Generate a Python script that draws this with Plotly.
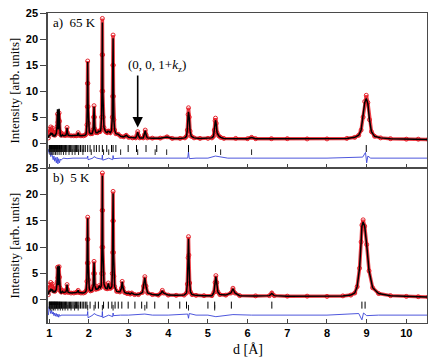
import plotly.graph_objects as go

# ---- panel a) 65 K ----
d_65 = [0.98, 1.00, 1.02, 1.04, 1.06, 1.08, 1.10, 1.12, 1.14, 1.16, 1.18, 1.20, 1.21, 1.22, 1.23, 1.24, 1.25, 1.26,
        1.27, 1.28, 1.30, 1.33, 1.36, 1.40, 1.42, 1.44, 1.45, 1.46, 1.48, 1.55, 1.62, 1.68, 1.71, 1.73, 1.75, 1.80,
        1.86, 1.90, 1.93, 1.95, 1.96, 1.965, 1.97, 1.975, 1.98, 1.99, 2.01, 2.04, 2.08, 2.11, 2.12, 2.13, 2.14, 2.15,
        2.18, 2.22, 2.25, 2.28, 2.30, 2.32, 2.33, 2.335, 2.34, 2.345, 2.35, 2.36, 2.38, 2.42, 2.46, 2.48, 2.50, 2.54,
        2.57, 2.59, 2.60, 2.605, 2.61, 2.615, 2.62, 2.63, 2.65, 2.68, 2.74, 2.80, 2.88, 2.94, 3.00, 3.10, 3.18, 3.21,
        3.23, 3.25, 3.28, 3.37, 3.40, 3.42, 3.44, 3.47, 3.60, 3.80, 3.97, 4.10, 4.30, 4.42, 4.46, 4.48, 4.50, 4.51,
        4.53, 4.55, 4.58, 4.65, 4.80, 5.00, 5.10, 5.14, 5.16, 5.18, 5.19, 5.21, 5.23, 5.27, 5.32, 5.40, 5.70, 6.00,
        6.10, 6.20, 6.60, 7.00, 7.50, 8.00, 8.50, 8.70, 8.80, 8.86, 8.91, 8.95, 8.99, 9.03, 9.07, 9.12, 9.20, 9.35,
        9.60, 10.00, 10.30, 10.55]
obs_65 = [1.0, 2.6, 2.2, 3.1, 2.4, 2.9, 1.6, 2.1, 1.5, 1.7, 2.1, 3.2, 5.6, 4.0, 2.8, 4.5, 5.8, 4.2, 2.2, 1.7, 1.5, 1.8, 1.5,
          1.5, 1.5, 2.0, 3.0, 2.0, 1.5, 1.4, 1.4, 1.4, 1.5, 2.0, 1.5, 1.4, 1.4, 1.5, 1.7, 3.5, 7.0, 11.5, 15.8, 11.5,
          7.0, 3.8, 2.1, 1.8, 1.8, 2.6, 5.0, 7.2, 5.0, 2.7, 2.0, 2.0, 2.3, 2.2, 2.5, 5.0, 10.0, 17.0, 24.0, 17.0, 10.0,
          5.0, 3.0, 2.2, 2.0, 2.3, 2.3, 2.0, 2.4, 5.0, 9.0, 15.0, 20.8, 15.0, 9.0, 4.5, 2.5, 1.8, 1.7, 1.3, 1.2, 1.5, 1.1,
          1.0, 1.0, 1.5, 2.2, 1.5, 1.0, 1.0, 1.6, 2.5, 1.6, 1.0, 0.95, 0.95, 1.2, 0.9, 0.9, 1.0, 1.3, 2.5, 5.5, 6.8,
          5.0, 2.3, 1.3, 1.0, 0.9, 0.9, 1.0, 1.3, 2.5, 4.3, 4.8, 3.8, 2.0, 1.4, 1.1, 0.9, 0.9, 0.85, 1.1, 0.85, 0.85,
          0.85, 0.8, 0.8, 0.9, 1.1, 1.5, 2.5, 5.0, 8.0, 9.2, 7.8, 4.5, 2.2, 1.3, 1.0, 0.85, 0.75, 0.75, 0.7]
calc_65 = [1.0, 1.6, 1.4, 2.0, 1.6, 1.9, 1.3, 1.6, 1.3, 1.5, 1.9, 3.4, 6.5, 4.2, 2.6, 4.8, 6.6, 4.3, 2.1, 1.5, 1.3, 1.6, 1.4,
           1.4, 1.5, 2.0, 2.9, 2.0, 1.5, 1.4, 1.4, 1.4, 1.5, 2.0, 1.5, 1.4, 1.4, 1.5, 1.7, 3.5, 7.0, 11.5, 15.6, 11.5,
           7.0, 3.8, 2.1, 1.8, 1.8, 2.6, 5.0, 7.0, 5.0, 2.7, 2.0, 2.0, 2.3, 2.2, 2.5, 5.0, 10.0, 16.5, 23.2, 16.5, 10.0,
           5.0, 3.0, 2.2, 2.0, 2.3, 2.3, 2.0, 2.4, 5.0, 9.0, 14.5, 20.2, 14.5, 9.0, 4.5, 2.5, 1.8, 1.7, 1.3, 1.2, 1.5, 1.1,
           1.0, 1.0, 1.5, 2.1, 1.5, 1.0, 1.0, 1.6, 2.4, 1.6, 1.0, 0.95, 0.95, 1.15, 0.9, 0.9, 1.0, 1.3, 2.5, 5.2, 6.0,
           4.8, 2.3, 1.3, 1.0, 0.9, 0.9, 1.0, 1.3, 2.5, 4.0, 4.4, 3.6, 2.0, 1.4, 1.1, 0.9, 0.9, 0.85, 1.05, 0.85, 0.85,
           0.85, 0.8, 0.8, 0.9, 1.1, 1.5, 2.5, 5.0, 7.8, 8.6, 7.6, 4.5, 2.2, 1.3, 1.0, 0.85, 0.75, 0.75, 0.7]
dd_65 = [0.98, 1.00, 1.02, 1.04, 1.06, 1.08, 1.10, 1.12, 1.14, 1.16, 1.18, 1.20, 1.22, 1.24, 1.26, 1.28, 1.30, 1.35,
         1.45, 1.60, 1.80, 1.96, 1.97, 1.98, 2.10, 2.13, 2.20, 2.33, 2.34, 2.35, 2.50, 2.60, 2.61, 2.62, 2.80, 3.00,
         3.23, 3.50, 4.00, 4.49, 4.51, 4.53, 4.70, 5.00, 5.19, 5.50, 6.10, 7.00, 8.00, 8.90, 8.97, 9.00, 9.03, 9.10,
         9.30, 10.55]
diff_65 = [-1.2, -2.0, -1.6, -2.6, -1.8, -2.3, -3.2, -2.5, -3.5, -2.8, -3.8, -2.7, -4.0, -3.0, -3.8, -3.1, -3.3, -2.9,
           -3.0, -2.9, -2.9, -2.9, -2.5, -3.2, -2.9, -2.6, -2.9, -3.1, -2.3, -3.3, -2.9, -3.2, -2.4, -3.0, -2.9, -2.9,
           -2.9, -2.9, -2.9, -2.9, -1.7, -3.0, -2.9, -2.9, -2.5, -2.9, -2.9, -2.9, -2.9, -2.7, -1.8, -3.8, -2.5, -2.9,
           -2.9, -2.9]
bragg_65_a = [1.00, 1.01, 1.02, 1.035, 1.045, 1.06, 1.07, 1.08, 1.095, 1.105, 1.12, 1.13, 1.14, 1.155, 1.165, 1.18,
              1.19, 1.205, 1.215, 1.23, 1.245, 1.26, 1.275, 1.29, 1.31, 1.33, 1.35, 1.37, 1.39, 1.41, 1.43, 1.45, 1.48,
              1.51, 1.54, 1.57, 1.60, 1.63, 1.66, 1.69, 1.72, 1.75, 1.79, 1.83, 1.87, 1.91, 1.97, 2.03, 2.13, 2.19,
              2.26, 2.34, 2.45, 2.57, 2.61, 2.68, 2.99, 3.20, 3.44, 3.71, 4.51, 5.19, 8.99]
bragg_65_b = [1.02, 1.05, 1.09, 1.12, 1.16, 1.20, 1.25, 1.30, 1.36, 1.42, 1.50, 1.58, 1.65, 1.74, 1.85, 2.06, 2.37,
              2.50, 2.80, 3.23, 3.67, 3.96, 5.32, 6.10]

# ---- panel b) 5 K ----
d_5 = [0.98, 1.00, 1.02, 1.04, 1.06, 1.08, 1.10, 1.12, 1.14, 1.16, 1.18, 1.20, 1.21, 1.22, 1.23, 1.24, 1.25, 1.26,
       1.27, 1.28, 1.30, 1.33, 1.36, 1.40, 1.42, 1.44, 1.45, 1.46, 1.48, 1.55, 1.62, 1.68, 1.71, 1.73, 1.75, 1.80,
       1.86, 1.90, 1.93, 1.95, 1.96, 1.965, 1.97, 1.975, 1.98, 1.99, 2.01, 2.04, 2.08, 2.11, 2.12, 2.13, 2.14, 2.15,
       2.18, 2.23, 2.26, 2.29, 2.31, 2.32, 2.33, 2.335, 2.34, 2.345, 2.35, 2.36, 2.38, 2.42, 2.46, 2.49, 2.52, 2.55,
       2.58, 2.59, 2.60, 2.605, 2.61, 2.615, 2.62, 2.63, 2.65, 2.70, 2.78, 2.82, 2.84, 2.86, 2.90, 2.96, 3.00, 3.04,
       3.08, 3.15, 3.25, 3.35, 3.38, 3.41, 3.44, 3.48, 3.60, 3.75, 3.82, 3.85, 3.88, 4.00, 4.20, 4.40, 4.46, 4.48,
       4.50, 4.51, 4.52, 4.54, 4.56, 4.60, 4.70, 4.90, 5.10, 5.15, 5.18, 5.20, 5.22, 5.25, 5.30, 5.45, 5.58, 5.63,
       5.68, 5.80, 6.20, 6.55, 6.61, 6.67, 7.00, 7.50, 8.00, 8.40, 8.60, 8.70, 8.76, 8.82, 8.86, 8.88, 8.91, 8.95,
       9.00, 9.06, 9.15, 9.30, 9.60, 10.00, 10.30, 10.55]
obs_5 = [1.0, 2.8, 2.3, 3.3, 2.5, 3.0, 1.7, 2.1, 1.6, 1.8, 2.2, 3.4, 6.2, 4.2, 3.0, 4.7, 6.3, 4.3, 2.3, 1.7, 1.5, 1.8, 1.5,
         1.4, 1.5, 2.0, 2.9, 2.0, 1.4, 1.3, 1.3, 1.4, 1.5, 1.8, 1.4, 1.3, 1.3, 1.4, 1.7, 3.5, 7.0, 11.5, 15.7, 11.5,
         7.0, 3.8, 2.1, 1.7, 1.8, 2.6, 5.0, 7.3, 5.0, 2.7, 2.0, 2.1, 2.7, 2.3, 2.6, 5.0, 10.0, 17.0, 24.1, 17.0, 10.0,
         5.0, 3.0, 2.2, 2.1, 3.2, 2.2, 2.2, 2.6, 5.0, 9.0, 15.0, 20.6, 15.0, 9.0, 4.5, 2.5, 1.6, 1.5, 2.2, 3.5, 2.3, 1.4,
         1.2, 1.3, 1.1, 1.3, 1.0, 1.0, 1.4, 2.6, 4.4, 2.6, 1.3, 1.0, 0.9, 1.3, 1.8, 1.3, 0.9, 0.85, 0.9, 1.3, 3.0,
         8.0, 12.0, 8.5, 3.2, 1.5, 1.0, 0.85, 0.8, 0.8, 1.4, 3.3, 4.6, 3.3, 1.5, 1.0, 0.9, 1.3, 2.2, 1.3, 0.8, 0.75,
         0.8, 1.3, 0.8, 0.7, 0.7, 0.65, 0.75, 0.9, 1.3, 2.5, 6.0, 11.0, 14.2, 15.2, 14.0, 10.5, 5.5, 2.3, 1.2, 0.8,
         0.65, 0.6, 0.55, 0.55]
calc_5 = [1.0, 1.8, 1.5, 2.1, 1.7, 2.0, 1.4, 1.7, 1.4, 1.6, 2.0, 3.5, 6.4, 4.3, 2.8, 4.9, 6.5, 4.4, 2.2, 1.5, 1.3, 1.6, 1.4,
          1.4, 1.5, 2.0, 2.9, 2.0, 1.4, 1.3, 1.3, 1.4, 1.5, 1.8, 1.4, 1.3, 1.3, 1.4, 1.7, 3.5, 7.0, 11.5, 15.5, 11.5,
          7.0, 3.8, 2.1, 1.7, 1.8, 2.6, 5.0, 7.1, 5.0, 2.7, 2.0, 2.1, 2.6, 2.3, 2.6, 5.0, 10.0, 16.8, 23.6, 16.8, 10.0,
          5.0, 3.0, 2.2, 2.1, 3.1, 2.2, 2.2, 2.6, 5.0, 9.0, 14.8, 20.2, 14.8, 9.0, 4.5, 2.5, 1.6, 1.5, 2.2, 3.4, 2.3, 1.4,
          1.2, 1.3, 1.1, 1.3, 1.0, 1.0, 1.4, 2.6, 4.2, 2.6, 1.3, 1.0, 0.9, 1.3, 1.7, 1.3, 0.9, 0.85, 0.9, 1.3, 3.0,
          8.0, 11.6, 8.5, 3.2, 1.5, 1.0, 0.85, 0.8, 0.8, 1.4, 3.3, 4.4, 3.3, 1.5, 1.0, 0.9, 1.3, 2.1, 1.3, 0.8, 0.75,
          0.8, 1.2, 0.8, 0.7, 0.7, 0.65, 0.75, 0.9, 1.3, 2.5, 6.0, 11.0, 14.0, 14.8, 14.0, 10.5, 5.5, 2.3, 1.2, 0.8,
          0.65, 0.6, 0.55, 0.55]
dd_5 = [0.98, 1.00, 1.02, 1.04, 1.06, 1.08, 1.10, 1.12, 1.14, 1.16, 1.18, 1.20, 1.22, 1.24, 1.26, 1.28, 1.30, 1.35,
        1.45, 1.60, 1.80, 1.96, 1.97, 1.98, 2.10, 2.13, 2.20, 2.33, 2.34, 2.35, 2.50, 2.60, 2.61, 2.62, 2.80, 3.00,
        3.41, 3.60, 4.00, 4.49, 4.51, 4.53, 4.70, 5.00, 5.20, 5.63, 6.10, 7.00, 8.00, 8.80, 8.85, 8.88, 8.92, 9.00,
        9.30, 10.55]
diff_5 = [-2.9, -1.3, -2.0, -2.6, -2.0, -2.7, -2.3, -3.0, -2.5, -3.1, -2.6, -3.2, -2.7, -3.3, -2.8, -3.1, -2.9, -2.9,
          -2.9, -2.9, -2.9, -2.9, -2.2, -3.4, -2.9, -2.6, -2.9, -3.2, -2.2, -3.4, -2.9, -3.2, -2.5, -3.0, -2.9, -2.9,
          -2.7, -2.9, -2.9, -2.7, -3.5, -2.6, -2.9, -2.9, -3.2, -2.8, -2.9, -2.9, -2.9, -2.6, -3.2, -3.8, -2.5, -3.0,
          -2.9, -2.9]
bragg_5_a = [1.00, 1.01, 1.02, 1.035, 1.045, 1.06, 1.07, 1.08, 1.095, 1.105, 1.12, 1.13, 1.14, 1.155, 1.165, 1.18,
             1.19, 1.205, 1.215, 1.23, 1.245, 1.26, 1.275, 1.29, 1.31, 1.33, 1.35, 1.37, 1.39, 1.41, 1.43, 1.45, 1.48,
             1.51, 1.54, 1.57, 1.60, 1.63, 1.66, 1.69, 1.72, 1.75, 1.79, 1.83, 1.87, 1.91, 1.95, 2.03, 2.16, 2.24,
             2.37, 2.49, 2.58, 2.66, 2.74, 2.83, 2.99, 3.16, 3.33, 3.46, 3.66, 4.00, 4.29, 4.46, 5.00, 5.17, 5.59,
             6.61, 8.88, 8.96]
bragg_5_b = [1.03, 1.07, 1.11, 1.15, 1.22, 1.28, 1.34, 1.40, 1.47, 1.55, 1.64, 1.73, 1.97, 2.13, 2.34, 2.61, 3.41,
             4.51, 5.17]

fig = go.Figure()

panels = [("x", "y", d_65, obs_65, calc_65, dd_65, diff_65, bragg_65_a, bragg_65_b, -1.05, -1.75),
          ("x2", "y2", d_5, obs_5, calc_5, dd_5, diff_5, bragg_5_a, bragg_5_b, -1.0, -1.5)]
for xa, ya, d, obs, calc, dd, diff, ba, bb, ya_pos, yb_pos in panels:
    fig.add_trace(go.Scatter(x=d, y=obs, mode="lines+markers", xaxis=xa, yaxis=ya,
                             line=dict(color="rgba(235,30,40,0.85)", width=3.5),
                             marker=dict(symbol="circle-open", size=4, color="rgba(225,20,30,0.9)",
                                         line=dict(width=1))))
    fig.add_trace(go.Scatter(x=d, y=calc, mode="lines", xaxis=xa, yaxis=ya,
                             line=dict(color="black", width=1.5)))
    fig.add_trace(go.Scatter(x=dd, y=diff, mode="lines", xaxis=xa, yaxis=ya,
                             line=dict(color="#3a44d8", width=0.9)))
    fig.add_trace(go.Scatter(x=ba, y=[ya_pos] * len(ba), mode="markers", xaxis=xa, yaxis=ya,
                             marker=dict(symbol="line-ns", size=5, line=dict(width=1, color="black"))))
    fig.add_trace(go.Scatter(x=bb, y=[yb_pos] * len(bb), mode="markers", xaxis=xa, yaxis=ya,
                             marker=dict(symbol="line-ns", size=4, line=dict(width=1, color="#222"))))

tick_font = dict(family="Liberation Sans", size=11, color="black", weight="bold")
title_font = dict(family="Liberation Serif", size=13, color="black")
ax_common = dict(showline=True, linecolor="#4a4a4a", linewidth=1.5, mirror=True, showgrid=False, zeroline=False,
                 automargin=False)

# page body adds an 8 px offset, so the figure is drawn 8 px smaller
fig.update_layout(
    width=428, height=352,
    margin=dict(l=40, r=9, t=5, b=37),
    paper_bgcolor="white", plot_bgcolor="white",
    showlegend=False,
    xaxis=dict(ax_common, range=[0.97, 10.52], anchor="y", tickvals=list(range(1, 11)), ticks="inside",
               ticklen=4, showticklabels=False, matches="x2", linewidth=1),
    yaxis=dict(ax_common, domain=[0.5, 1], range=[-4.8, 25.05], anchor="x", tickvals=[0, 5, 10, 15, 20, 25],
               ticks="outside", ticklen=6, tickfont=tick_font, ticklabeloverflow="allow"),
    xaxis2=dict(ax_common, range=[0.97, 10.52], anchor="y2", tickvals=list(range(1, 11)), ticks="inside",
                ticklen=4, tickfont=tick_font, linewidth=1.2),
    yaxis2=dict(ax_common, domain=[0, 0.5], range=[-4.4, 25.05], anchor="x2", tickvals=[0, 5, 10, 15, 20, 25],
                ticks="outside", ticklen=6, tickfont=tick_font, ticklabeloverflow="allow"),
)

for yc in (0.75, 0.25):
    fig.add_annotation(x=0, y=yc, xref="paper", yref="paper", text="Intensity [arb. units]", showarrow=False,
                       textangle=-90, xanchor="center", yanchor="middle", xshift=-34, font=title_font)

ann_font = dict(family="Liberation Serif", size=13, color="black")
fig.add_annotation(x=1.05, y=23.2, xref="x", yref="y", text="a)  65 K", showarrow=False, xanchor="left",
                   font=ann_font)
fig.add_annotation(x=1.05, y=23.2, xref="x2", yref="y2", text="b)  5 K", showarrow=False, xanchor="left",
                   font=ann_font)
fig.add_annotation(x=3.72, y=15.0, xref="x", yref="y", text="(0, 0, 1+<i>k</i><sub>z</sub>)", showarrow=False,
                   font=ann_font)
fig.add_annotation(x=3.23, y=3.0, xref="x", yref="y", ax=3.23, ay=13.3, axref="x", ayref="y", text="",
                   showarrow=True, arrowhead=2, arrowsize=1.3, arrowwidth=1.6, arrowcolor="black")
fig.add_annotation(x=0.5, y=-0.055, xref="paper", yref="paper", text="d [Å]", showarrow=False,
                   font=dict(family="Liberation Serif", size=14, color="black"), yanchor="top", xshift=10)

fig.write_html("out.html")
